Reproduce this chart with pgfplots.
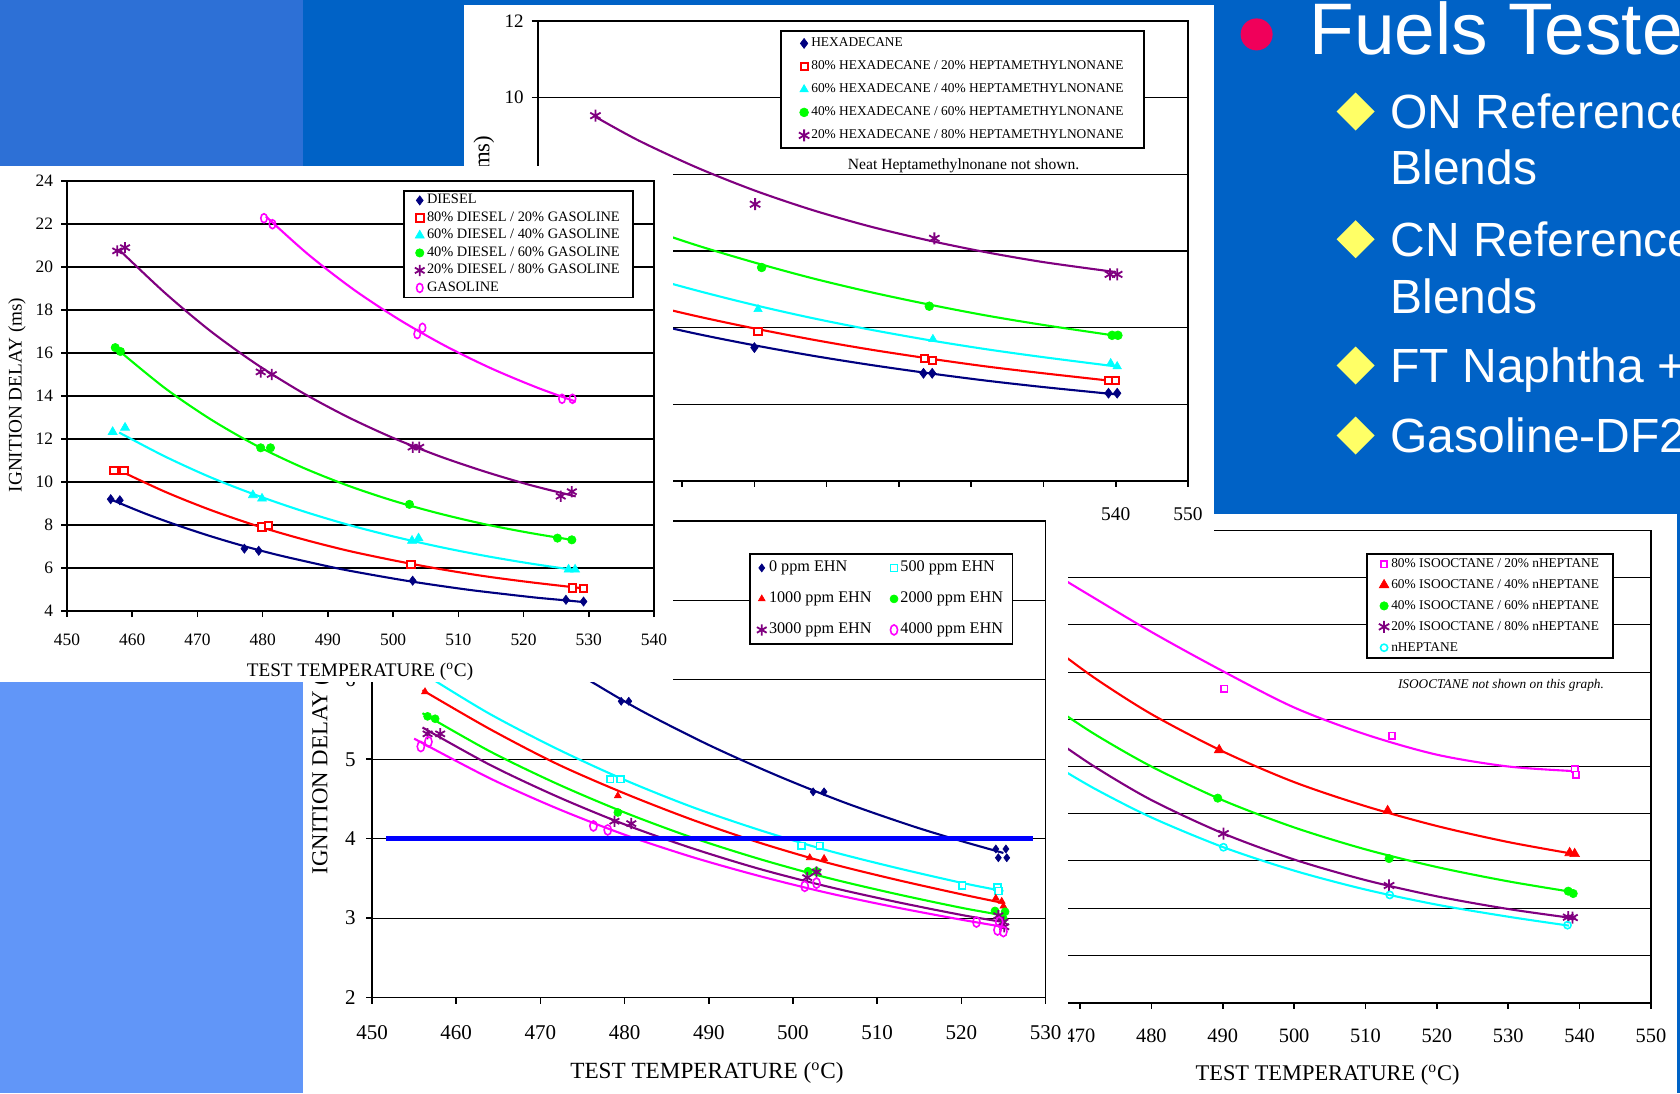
\documentclass[border=0pt]{standalone}
\usepackage{pgfplots}
\pgfplotsset{compat=1.18}
\usepackage{fontspec}
\setmainfont{Liberation Serif}
\newfontfamily\arial{Liberation Sans}
\definecolor{bgdark}{HTML}{0062C6}
\definecolor{bgtop}{HTML}{2D70D6}
\definecolor{bglow}{HTML}{6196F8}
\definecolor{cnavy}{HTML}{000080}
\definecolor{cred}{HTML}{FF0000}
\definecolor{ccyan}{HTML}{00FFFF}
\definecolor{cgreen}{HTML}{00FF00}
\definecolor{cpurple}{HTML}{800080}
\definecolor{cmag}{HTML}{FF00FF}
\definecolor{cpink}{HTML}{F0005A}
\definecolor{cyel}{HTML}{FFFF66}
\newcommand\fs[1]{\fontsize{#1}{#1}\selectfont}
\pgfplotsset{
  legend image code/.code={\draw[mark repeat=2,mark phase=2,#1] plot coordinates {(0pt,0pt) (2.5pt,0pt) (5pt,0pt)};},
  panel/.style={scale only axis, anchor=south west, axis line style={line width=0.9pt},
    tick style={black, line width=0.8pt}, tick align=outside, tick pos=left, major tick length=3pt,
    ymajorgrids, major grid style={black, line width=0.55pt},
    /pgf/number format/assume math mode=true, /pgf/number format/1000 sep={},
    legend cell align=left},
  cl/.style={no markers, smooth, line width=1.05pt, forget plot, color=#1},
  mnavy/.style={only marks, mark=diamond*, color=cnavy, mark size=#1, mark options={line width=0.3pt}},
  mred/.style={only marks, mark=square*, color=cred, mark size=#1, mark options={fill=white, line width=1pt}},
  mcyan/.style={only marks, mark=triangle*, color=ccyan, mark size=#1, mark options={line width=0.3pt}},
  mgreen/.style={only marks, mark=*, color=cgreen, mark size=#1, mark options={line width=0.3pt}},
  mpurple/.style={only marks, mark=asterisk, color=cpurple, mark size=#1, mark options={line width=0.9pt}},
  mmag/.style={only marks, mark=o, color=cmag, mark size=#1, mark options={line width=0.8pt, yscale=1.4}},
  mcsq/.style={only marks, mark=square*, color=ccyan, mark size=#1, mark options={fill=white, line width=0.8pt}},
  mmsq/.style={only marks, mark=square*, color=cmag, mark size=#1, mark options={fill=white, line width=0.8pt}},
  mredt/.style={only marks, mark=triangle*, color=cred, mark size=#1, mark options={line width=0.3pt}},
  mco/.style={only marks, mark=o, color=ccyan, mark size=#1, mark options={line width=0.8pt}},
}
\begin{document}
\begin{tikzpicture}
\useasboundingbox (0,0) rectangle (840pt,546.5pt);
\clip (0,0) rectangle (840pt,546.5pt);
\fill[bgdark] (0,0) rectangle (840pt,546.5pt);
\fill[bglow] (0,0) rectangle (151.5pt,280pt);
\fill[bgtop] (0,280pt) rectangle (151.5pt,546.5pt);

% ---------------- D: isooctane / n-heptane
\fill[white] (533pt,0) rectangle (838.5pt,289.25pt);
\begin{scope}
\clip (534pt,0) rectangle (838.5pt,289.25pt);
\begin{axis}[panel, at={(504.3pt,45.2pt)}, width=321.2pt, height=236.1pt,
  xmin=460, xmax=550, ymin=0, ymax=10, xtick={460,470,...,550}, ytick={0,1,...,10}, yticklabels={},
  xticklabel style={font=\fs{10.2}, anchor=center, inner sep=0pt, yshift=-13.6pt},
  legend style={at={(0.5563,0.9521)}, anchor=north west, draw=black, line width=0.9pt, font=\fs{6.7},
    inner xsep=6pt, inner ysep=1.45pt, row sep=3.15pt,
    nodes={inner ysep=0.5pt, inner xsep=1pt, text height=4.8pt, text depth=1.5pt}}]
\addplot[cl=cmag] coordinates {(466,9.12) (470,8.75) (480,7.85) (490,7.02) (500,6.25) (510,5.68) (520,5.25) (530,5.0) (539.5,4.9)};
\addplot[cl=cred] coordinates {(466,7.55) (472,6.88) (480,6.11) (490,5.32) (500,4.67) (510,4.16) (520,3.74) (530,3.40) (539.5,3.14)};
\addplot[cl=cgreen] coordinates {(466,6.29) (472,5.69) (480,5.00) (490,4.285) (500,3.71) (510,3.245) (520,2.871) (530,2.568) (539.5,2.33)};
\addplot[cl=cpurple] coordinates {(466,5.62) (472,5.00) (480,4.29) (490,3.586) (500,3.03) (510,2.594) (520,2.251) (530,1.982) (539.5,1.78)};
\addplot[cl=ccyan] coordinates {(466,5.07) (472,4.535) (480,3.922) (490,3.295) (500,2.795) (510,2.394) (520,2.074) (530,1.819) (538.5,1.63)};
\addplot[mmsq=1.6pt] coordinates {(490.2,6.65) (513.7,5.65) (539.3,4.94) (539.5,4.83)};
\addplot[mredt=2.8pt] coordinates {(489.5,5.35) (513.1,4.06) (538.6,3.17) (539.3,3.15)};
\addplot[mgreen=2.1pt] coordinates {(489.3,4.33) (513.3,3.05) (538.4,2.36) (539.1,2.31)};
\addplot[mpurple=3pt] coordinates {(490.1,3.58) (513.3,2.48) (538.4,1.81) (539,1.80)};
\addplot[mco=1.8pt] coordinates {(490.1,3.29) (513.4,2.28) (538.3,1.64)};
\legend{80\% ISOOCTANE / 20\% nHEPTANE, 60\% ISOOCTANE / 40\% nHEPTANE, 40\% ISOOCTANE / 60\% nHEPTANE, 20\% ISOOCTANE / 80\% nHEPTANE, nHEPTANE}
\end{axis}
\end{scope}
\node[font=\fs{11.2}] at (663.8pt,9pt) {TEST TEMPERATURE (\textsuperscript{o}C)};
\node[font=\itshape\fs{6.65}] at (750.5pt,204pt) {ISOOCTANE not shown on this graph.};

% ---------------- B: hexadecane / HMN
\fill[white] (232pt,276.5pt) rectangle (607pt,544pt);
\begin{scope}
\clip (232pt,276.5pt) rectangle (607pt,544pt);
\begin{axis}[panel, at={(268.8pt,306pt)}, width=325.2pt, height=230pt,
  xmin=460, xmax=550, ymin=0, ymax=12, xtick={460,470,...,550}, ytick={0,2,...,12},
  xticklabel style={font=\fs{9.7}, anchor=center, inner sep=0pt, yshift=-13.8pt},
  yticklabel style={font=\fs{9.5}, anchor=east, inner sep=0pt, xshift=-3.8pt},
  legend style={at={(0.3727,0.9804)}, anchor=north west, draw=black, line width=0.9pt, font=\fs{6.7},
    inner xsep=9pt, inner ysep=2.6pt, row sep=4.2pt,
    nodes={inner ysep=0.5pt, inner xsep=1pt, text height=4.8pt, text depth=1.5pt}}]
\addplot[cl=cnavy] coordinates {(466,4.55) (474,4.18) (482,3.84) (490,3.54) (498,3.27) (506,3.03) (514,2.815) (522,2.62) (530,2.45) (540,2.26)};
\addplot[cl=cred] coordinates {(466,5.06) (474,4.66) (482,4.30) (490,3.98) (498,3.69) (506,3.43) (514,3.20) (522,2.99) (530,2.81) (540,2.60)};
\addplot[cl=ccyan] coordinates {(466,5.87) (474,5.39) (482,4.97) (490,4.59) (498,4.25) (506,3.95) (514,3.68) (522,3.44) (530,3.23) (540,2.99)};
\addplot[cl=cgreen] coordinates {(466,7.23) (474,6.66) (482,6.15) (490,5.70) (498,5.29) (506,4.93) (514,4.61) (522,4.32) (530,4.07) (540,3.79)};
\addplot[cl=cpurple] coordinates {(468,9.5) (474,8.88) (482,8.18) (490,7.58) (498,7.07) (506,6.64) (514,6.28) (522,5.97) (530,5.71) (540,5.45)};
\addplot[mnavy=2.5pt] coordinates {(490,3.48) (513.4,2.81) (514.6,2.81) (539,2.29) (540.2,2.29)};
\addplot[mred=1.8pt] coordinates {(490.5,3.89) (513.5,3.20) (514.6,3.15) (539,2.62) (540,2.62)};
\addplot[mcyan=2.4pt] coordinates {(490.5,4.48) (514.7,3.70) (539.3,3.07) (540.2,2.99)};
\addplot[mgreen=2.2pt] coordinates {(491,5.57) (514.2,4.56) (539.5,3.80) (540.3,3.80)};
\addplot[mpurple=3pt] coordinates {(468,9.53) (490.1,7.22) (514.9,6.33) (539.2,5.39) (540.2,5.39)};
\legend{HEXADECANE, 80\% HEXADECANE / 20\% HEPTAMETHYLNONANE, 60\% HEXADECANE / 40\% HEPTAMETHYLNONANE, 40\% HEXADECANE / 60\% HEPTAMETHYLNONANE, 20\% HEXADECANE / 80\% HEPTAMETHYLNONANE}
\end{axis}
\node[rotate=90, font=\fs{11.4}] at (242pt,421pt) {IGNITION DELAY (ms)};
\node[font=\fs{7.8}] at (481.8pt,463.5pt) {Neat Heptamethylnonane not shown.};
\end{scope}

% ---------------- C: EHN
\fill[white] (151.5pt,0) rectangle (533pt,299pt);
\begin{scope}
\clip (151.5pt,0) rectangle (533pt,299pt);
\begin{axis}[panel, at={(186pt,47.75pt)}, width=336.75pt, height=238.25pt,
  xmin=450, xmax=530, ymin=2, ymax=8, xtick={450,460,...,530}, ytick={2,3,...,8},
  xticklabel style={font=\fs{10.5}, anchor=center, inner sep=0pt, yshift=-14.6pt},
  yticklabel style={font=\fs{10.5}, anchor=east, inner sep=0pt, xshift=-5pt},
  legend columns=2,
  legend style={at={(0.5598,0.9328)}, anchor=north west, draw=black, line width=0.9pt, font=\fs{8.1},
    inner xsep=3.5pt, inner ysep=2.7pt, row sep=6.9pt,
    nodes={inner ysep=0.5pt, inner xsep=1.2pt, text height=5.8pt, text depth=1.8pt},
    /tikz/every even column/.append style={column sep=8pt}}]
\addplot[cl=cnavy] coordinates {(472,6.24) (476,5.98) (482,5.61) (490,5.18) (498,4.80) (506,4.46) (514,4.165) (520,3.97) (525,3.82)};
\addplot[cl=ccyan] coordinates {(457,6.02) (464,5.57) (472,5.13) (480,4.74) (488,4.40) (496,4.11) (504,3.855) (512,3.64) (520,3.445) (525,3.34)};
\addplot[cl=cred] coordinates {(456,5.87) (464,5.38) (472,4.94) (480,4.57) (488,4.24) (496,3.95) (504,3.70) (512,3.49) (520,3.30) (525,3.19)};
\addplot[cl=cgreen] coordinates {(456,5.58) (464,5.10) (472,4.69) (480,4.33) (488,4.015) (496,3.745) (504,3.51) (512,3.31) (520,3.13) (525,3.035)};
\addplot[cl=cpurple] coordinates {(456,5.40) (464,4.93) (472,4.53) (480,4.18) (488,3.88) (496,3.62) (504,3.40) (512,3.21) (520,3.04) (525,2.95)};
\addplot[cl=cmag] coordinates {(455,5.26) (464,4.76) (472,4.38) (480,4.05) (488,3.77) (496,3.53) (504,3.32) (512,3.14) (520,2.98) (525,2.89)};
\addplot[blue, line width=2.8pt, forget plot] coordinates {(451.7,4) (528.5,4)};
\addplot[mnavy=2pt] coordinates {(479.6,5.73) (480.5,5.73) (502.4,4.59) (503.7,4.59) (524.1,3.87) (525.3,3.87) (524.4,3.76) (525.4,3.76)};
\addplot[mcsq=1.7pt] coordinates {(478.3,4.75) (479.5,4.75) (501,3.91) (503.2,3.91) (520.1,3.41) (524.3,3.39) (524.4,3.34)};
\addplot[mredt=2pt] coordinates {(456.3,5.85) (479.2,4.54) (502,3.76) (503.7,3.75) (524.1,3.25) (524.8,3.21) (525,3.15)};
\addplot[mgreen=2pt] coordinates {(456.6,5.54) (457.5,5.51) (479.2,4.33) (501.8,3.59) (502.8,3.59) (524,3.09) (525,2.99) (525.2,3.08)};
\addplot[mpurple=2.8pt] coordinates {(456.6,5.32) (458.1,5.32) (478.8,4.22) (480.8,4.19) (501.7,3.51) (502.8,3.58) (524.4,3.03) (525,2.95) (525.1,2.89)};
\addplot[mmag=1.8pt] coordinates {(455.8,5.16) (456.7,5.22) (476.3,4.16) (478,4.11) (501.4,3.40) (502.8,3.44) (521.8,2.95) (524.3,2.85) (525,2.83) (524.5,2.95)};
\legend{0 ppm EHN, 500 ppm EHN, 1000 ppm EHN, 2000 ppm EHN, 3000 ppm EHN, 4000 ppm EHN}
\end{axis}
\node[font=\fs{11.6}] at (353.5pt,10pt) {TEST TEMPERATURE (\textsuperscript{o}C)};
\node[rotate=90, font=\fs{11.4}] at (161pt,167pt) {IGNITION DELAY (ms)};
\end{scope}

% ---------------- A: diesel / gasoline
\fill[white] (0,205.5pt) rectangle (336.5pt,463.5pt);
\begin{scope}
\clip (0,205.5pt) rectangle (336.5pt,463.5pt);
\begin{axis}[panel, at={(33.5pt,241pt)}, width=293.5pt, height=215pt,
  xmin=450, xmax=540, ymin=4, ymax=24, xtick={450,460,...,540}, ytick={4,6,...,24},
  xticklabel style={font=\fs{8.7}, anchor=center, inner sep=0pt, yshift=-11.3pt},
  yticklabel style={font=\fs{8.7}, anchor=east, inner sep=0pt, xshift=-3.8pt},
  legend style={at={(0.5724,0.979)}, anchor=north west, draw=black, line width=0.9pt, font=\fs{7.2},
    inner xsep=5.5pt, inner ysep=1pt, row sep=1.25pt,
    nodes={inner ysep=0.5pt, inner xsep=1.2pt, text height=5pt, text depth=1.5pt}}]
\addplot[cl=cnavy] coordinates {(457,9.15) (462,8.53) (467,7.98) (472,7.48) (477,7.03) (482,6.63) (487,6.28) (492,5.95) (497,5.67) (502,5.41) (507,5.18) (512,4.97) (517,4.79) (522,4.62) (527,4.48) (529,4.42)};
\addplot[cl=cred] coordinates {(458,10.54) (465,9.55) (472,8.70) (479,7.97) (486,7.35) (493,6.81) (500,6.36) (507,5.96) (514,5.62) (521,5.34) (529,5.06)};
\addplot[cl=ccyan] coordinates {(458,12.3) (465,11.19) (472,10.22) (479,9.39) (486,8.66) (493,8.02) (500,7.47) (507,6.99) (514,6.57) (521,6.21) (528,5.90)};
\addplot[cl=cgreen] coordinates {(458,16.1) (465,14.37) (472,12.92) (479,11.70) (486,10.69) (493,9.84) (500,9.13) (507,8.54) (514,8.04) (521,7.63) (528,7.28)};
\addplot[cl=cpurple] coordinates {(458,20.8) (465,18.80) (472,17.02) (479,15.49) (486,14.17) (493,13.03) (500,12.05) (507,11.21) (514,10.49) (521,9.86) (528,9.33)};
\addplot[cl=cmag] coordinates {(480.5,22.35) (487,20.58) (494,18.94) (501,17.54) (508,16.33) (515,15.29) (522,14.40) (528,13.74)};
\addplot[mnavy=2.3pt] coordinates {(456.7,9.2) (458.1,9.15) (477.2,6.9) (479.4,6.8) (503,5.41) (526.5,4.52) (529.2,4.44)};
\addplot[mred=1.9pt] coordinates {(457.2,10.54) (458.7,10.54) (479.9,7.9) (480.9,7.97) (502.7,6.17) (527.5,5.07) (529.2,5.04)};
\addplot[mcyan=2.6pt] coordinates {(457,12.33) (458.9,12.53) (478.5,9.39) (479.9,9.23) (502.9,7.27) (503.9,7.38) (526.9,5.93) (527.9,5.93)};
\addplot[mgreen=2.1pt] coordinates {(457.4,16.25) (458.2,16.07) (479.7,11.59) (481.2,11.59) (502.5,8.96) (525.2,7.39) (527.4,7.31)};
\addplot[mpurple=2.8pt] coordinates {(457.7,20.75) (458.9,20.9) (479.7,15.12) (481.4,15.0) (503,11.62) (504,11.62) (525.7,9.34) (527.4,9.55)};
\addplot[mmag=1.6pt] coordinates {(480.2,22.27) (481.5,21.99) (503.7,16.88) (504.5,17.17) (525.9,13.87) (527.5,13.87)};
\legend{DIESEL, 80\% DIESEL / 20\% GASOLINE, 60\% DIESEL / 40\% GASOLINE, 40\% DIESEL / 60\% GASOLINE, 20\% DIESEL / 80\% GASOLINE, GASOLINE}
\end{axis}
\node[font=\fs{9.6}] at (180pt,210.5pt) {TEST TEMPERATURE (\textsuperscript{o}C)};
\node[rotate=90, font=\fs{9.6}] at (8.5pt,349pt) {IGNITION DELAY (ms)};
\end{scope}

% ---------------- slide text
\fill[cpink] (628.3pt,529.3pt) circle (8pt);
\node[anchor=base west, inner sep=0pt, text=white, font=\arial\fs{36.5}] at (654.5pt,519pt) {Fuels Tested};
\foreach \yy in {490.7,426.9,363.7,328.7} {
  \fill[cyel] (668.3pt,\yy pt) -- (677.8pt,\yy pt+9.5pt) -- (687.3pt,\yy pt) -- (677.8pt,\yy pt-9.5pt) -- cycle;
}
\begin{scope}[every node/.style={anchor=base west, inner sep=0pt, text=white, font=\arial\fs{24}}]
\node at (695pt,482.3pt) {ON Reference};
\node at (695pt,454pt) {Blends};
\node at (695pt,418.2pt) {CN Reference};
\node at (695pt,389.8pt) {Blends};
\node at (695pt,355.2pt) {FT Naphtha +};
\node at (695pt,320.3pt) {Gasoline-DF2};
\end{scope}
\end{tikzpicture}
\end{document}
